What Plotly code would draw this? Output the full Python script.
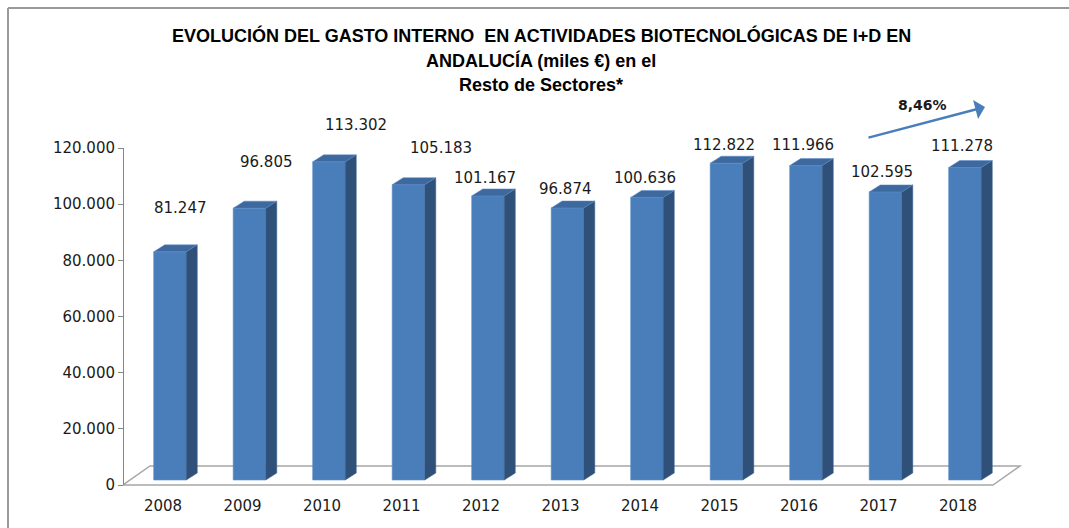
import plotly.graph_objects as go

# ---------------- data ----------------
years = ["2008", "2009", "2010", "2011", "2012", "2013", "2014", "2015", "2016", "2017", "2018"]
gasto = [81247, 96805, 113302, 105183, 101167, 96874, 100636, 112822, 111966, 102595, 111278]
value_labels = ["81.247", "96.805", "113.302", "105.183", "101.167", "96.874",
                "100.636", "112.822", "111.966", "102.595", "111.278"]
y_ticks = [0, 20000, 40000, 60000, 80000, 100000, 120000]
y_tick_text = ["0", "20.000", "40.000", "60.000", "80.000", "100.000", "120.000"]
growth_text = "8,46%"
title_lines = ["EVOLUCIÓN DEL GASTO INTERNO  EN ACTIVIDADES BIOTECNOLÓGICAS DE I+D EN",
               "ANDALUCÍA (miles €) en el",
               "Resto de Sectores*"]

# ---------------- layout geometry ----------------
W, H = 1069, 528
ML, MR, MT, MB = 123, 39, 120, 33
PW, PH = W - ML - MR, H - MT - MB
px_per_cat = 79.5
px_per_unit = 2.808 / 1000.0
x_min = -0.591
x_max = x_min + PW / px_per_cat
zero_px = 480                      # pixel row of the bars' base
y_min = -(H - MB - zero_px) / px_per_unit
y_max = (zero_px - MT) / px_per_unit
u_per_px = 1 / px_per_unit


def paper_x(px):
    return (px - ML) / PW


def paper_y(py):
    return (H - MB - py) / PH


# 3-D look
bar_w = 0.41
depth_x = 11 / px_per_cat
depth_y = 7 * u_per_px
FRONT = "#4A7EBB"
SIDE = "#2F5079"
TOP = "#3D699E"

# label offsets (px) to mimic reference placement
label_dx = [11, 17, 27, 33, -3, -2, -2, -2, -3, -3, -3]
label_dy = [44, 46, 37, 37, 18, 19, 19, 18, 21, 20, 22]

xs = list(range(len(years)))

fig = go.Figure()
fig.add_trace(go.Bar(
    x=xs, y=gasto, width=bar_w,
    marker=dict(color=FRONT, line=dict(color="#5B8DC8", width=0.6)),
    hoverinfo="skip", showlegend=False,
))
# invisible trace for the tick axis subplot
fig.add_trace(go.Scatter(x=[0], y=[0], xaxis="x", yaxis="y2", mode="markers",
                         marker=dict(opacity=0), hoverinfo="skip", showlegend=False))

shapes = []
# floor
fy0 = -5 * u_per_px
fy1 = fy0 + 19 * u_per_px
fdx = 27 / px_per_cat
fx_right = xs[-1] + 0.352
shapes.append(dict(
    type="path", xref="x", yref="y", layer="below",
    path=f"M {x_min},{fy0} L {fx_right},{fy0} L {fx_right + fdx},{fy1} L {x_min + fdx},{fy1} Z",
    fillcolor="white", line=dict(color="#A6A6A6", width=1.5),
))
for x, v in zip(xs, gasto):
    r = x + bar_w / 2
    l = x - bar_w / 2
    shapes.append(dict(
        type="path", xref="x", yref="y", layer="above",
        path=f"M {r},0 L {r + depth_x},{depth_y} L {r + depth_x},{v + depth_y} L {r},{v} Z",
        fillcolor=SIDE, line=dict(color="#3A5E8C", width=0.5),
    ))
    shapes.append(dict(
        type="path", xref="x", yref="y", layer="above",
        path=f"M {l},{v} L {l + depth_x},{v + depth_y} L {r + depth_x},{v + depth_y} L {r},{v} Z",
        fillcolor=TOP, line=dict(color="#5B8DC8", width=0.5),
    ))
# outer frame (left and top edges)
shapes.append(dict(type="line", xref="paper", yref="paper",
                   x0=paper_x(8), x1=paper_x(8), y0=paper_y(8), y1=paper_y(H + 5),
                   line=dict(color="#9A9A9A", width=2)))
shapes.append(dict(type="line", xref="paper", yref="paper",
                   x0=paper_x(8), x1=paper_x(W + 5), y0=paper_y(8), y1=paper_y(8),
                   line=dict(color="#9A9A9A", width=2)))

annotations = []
for x, v, t, dx, dy in zip(xs, gasto, value_labels, label_dx, label_dy):
    annotations.append(dict(x=x, y=v, xref="x", yref="y", text=t, showarrow=False,
                            xshift=dx, yshift=dy, xanchor="center", yanchor="middle",
                            font=dict(family="DejaVu Sans", size=15, color="#1a1a1a")))
for i, line in enumerate(title_lines):
    annotations.append(dict(x=paper_x(541), y=paper_y(35 + 25 * i), xref="paper", yref="paper",
                            text=f"<b>{line}</b>", showarrow=False,
                            xanchor="center", yanchor="middle",
                            font=dict(family="Liberation Sans Narrow, Arial Narrow, Liberation Sans",
                                      size=18, color="#000000")))
# growth arrow
annotations.append(dict(x=paper_x(985), y=paper_y(107), xref="paper", yref="paper",
                        ax=-118, ay=31, axref="pixel", ayref="pixel", text="",
                        showarrow=True, arrowhead=1, arrowsize=1.3, arrowwidth=2.5,
                        arrowcolor="#4A7EBB"))
annotations.append(dict(x=paper_x(922), y=paper_y(105), xref="paper", yref="paper",
                        text=f"<b>{growth_text}</b>", showarrow=False,
                        xanchor="center", yanchor="middle",
                        font=dict(family="DejaVu Sans", size=14, color="#1a1a1a")))

fig.update_layout(
    width=W, height=H,
    margin=dict(l=ML, r=MR, t=MT, b=MB, pad=0),
    paper_bgcolor="white", plot_bgcolor="rgba(0,0,0,0)",
    shapes=shapes, annotations=annotations,
    xaxis=dict(range=[x_min, x_max], tickvals=xs, ticktext=years, showline=False,
               showgrid=False, zeroline=False, ticks="", ticklabelshift=-7,
               tickfont=dict(family="DejaVu Sans", size=15, color="#1a1a1a"),
               anchor="y", fixedrange=True),
    yaxis=dict(range=[y_min, y_max], visible=False, showgrid=False, zeroline=False,
               domain=[0, 1], fixedrange=True),
    yaxis2=dict(range=[0, 120000], domain=[paper_y(485), paper_y(148)],
                anchor="free", position=0, tickvals=y_ticks, ticktext=y_tick_text,
                showline=True, linecolor="#868686", linewidth=1,
                ticks="outside", ticklen=5, tickcolor="#868686",
                showgrid=False, zeroline=False,
                tickfont=dict(family="DejaVu Sans", size=15, color="#1a1a1a"),
                fixedrange=True),
    showlegend=False,
)

fig.write_html("out.html", config={"displayModeBar": False},
               post_script="document.body.style.margin='0';document.body.style.overflow='hidden';")
